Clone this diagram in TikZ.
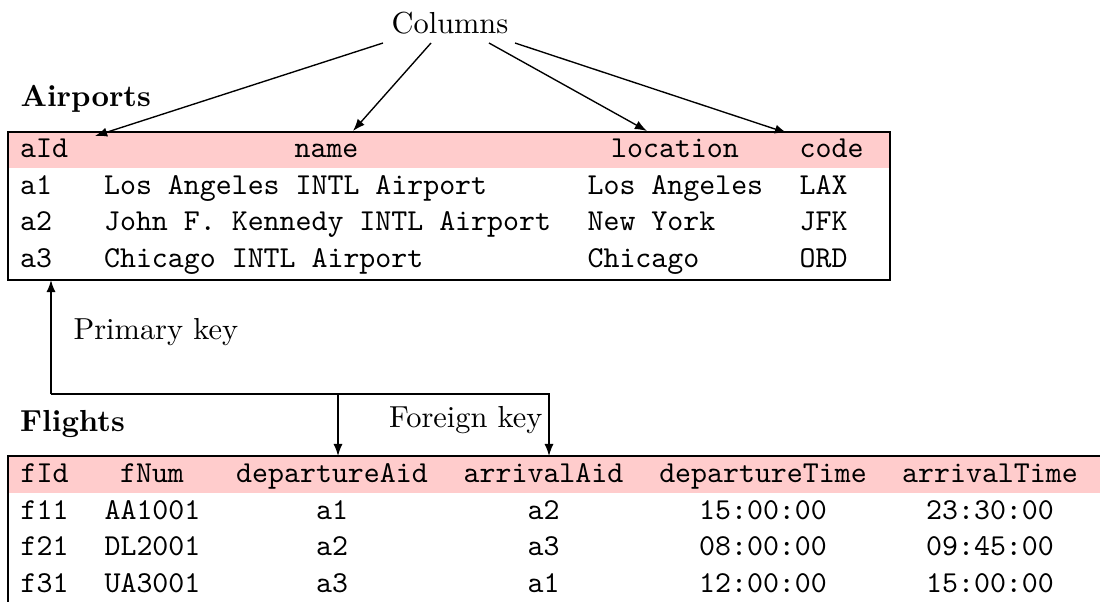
\documentclass[tikz,border=0pt]{standalone}
\usetikzlibrary{arrows.meta}
\definecolor{hdr}{RGB}{255,204,204}
\begin{document}
\begin{tikzpicture}[x=0.32895pt,y=-0.32895pt,
  cell/.style={font=\ttfamily,inner sep=0pt},
  lcell/.style={cell,anchor=base west},
  ccell/.style={cell,anchor=base},
  lbl/.style={inner sep=0pt,anchor=base},
  ttl/.style={inner sep=0pt,anchor=base west,font=\bfseries},
  tbl/.style={draw=black,line width=0.4pt},
  conn/.style={-{Latex[length=4pt,width=3pt]},line width=0.45pt}]
\useasboundingbox (0,0) rectangle (1100,601);
\begin{scope}
\clip (0,0) rectangle (1100,601);

% ---------- Airports table ----------
\fill[hdr] (8,132) rectangle (890,168);
\draw[tbl] (8,132) rectangle (890,280);
\node[ttl] (airports) at (20,106) {Airports};

\node[lcell] (aId)  at (19.5,157.5) {aId};
\node[ccell] (name) at (326.5,157.5) {name};
\node[ccell] (loc)  at (675,157.5) {location};
\node[lcell] (code) at (799,157.5) {code};

\node[lcell] (a1) at (19.5,194) {a1};
\node[lcell] (a1n) at (103.5,194) {Los Angeles INTL Airport};
\node[lcell] (a1l) at (587,194) {Los Angeles};
\node[lcell] (a1c) at (799,194) {LAX};

\node[lcell] (a2) at (19.5,230.5) {a2};
\node[lcell] (a2n) at (103.5,230.5) {John F. Kennedy INTL Airport};
\node[lcell] (a2l) at (587,230.5) {New York};
\node[lcell] (a2c) at (799,230.5) {JFK};

\node[lcell] (a3) at (19.5,267) {a3};
\node[lcell] (a3n) at (103.5,267) {Chicago INTL Airport};
\node[lcell] (a3l) at (587,267) {Chicago};
\node[lcell] (a3c) at (799,267) {ORD};

% ---------- Columns ----------
\node[lbl] (columns) at (450,33) {Columns};
\coordinate (cs1) at (383,43);
\coordinate (cs2) at (431,43);
\coordinate (cs3) at (489,43);
\coordinate (cs4) at (515,43);
\coordinate (ct1) at (95,136);
\coordinate (ct2) at (353,131);
\coordinate (ct3) at (647,131);
\coordinate (ct4) at (787,133);
\draw[conn] (cs1) -- (ct1);
\draw[conn] (cs2) -- (ct2);
\draw[conn] (cs3) -- (ct3);
\draw[conn] (cs4) -- (ct4);

% ---------- Keys ----------
\node[lbl,anchor=base west] (pk) at (73,339) {Primary key};
\node[lbl,anchor=base east] (fk) at (543,427) {Foreign key};
\coordinate (pkTop) at (51,280);
\coordinate (pkCorner) at (51,394);
\coordinate (depJ) at (338,394);
\coordinate (arrJ) at (549,394);
\coordinate (depTop) at (338,456);
\coordinate (arrTop) at (549,456);
\draw[conn] (pkCorner) -- (pkTop);
\draw[conn] (pkCorner) -- (arrJ) -- (arrTop);
\draw[conn] (depJ) -- (depTop);

% ---------- Flights table ----------
\node[ttl] (flights) at (19.5,431) {Flights};
\fill[hdr] (8,456) rectangle (1110,492.5);
\draw[tbl] (1110,456) -- (8,456) -- (8,610);

\node[lcell] (fId)  at (20,482.5) {fId};
\node[ccell] (fNum) at (152,482.5) {fNum};
\node[ccell] (dep)  at (332,482.5) {departureAid};
\node[ccell] (arr)  at (543.5,482.5) {arrivalAid};
\node[ccell] (dt)   at (763,482.5) {departureTime};
\node[ccell] (at)   at (990,482.5) {arrivalTime};

\node[lcell] (f1) at (20,519) {f11};
\node[lcell] (f1n) at (104,519) {AA1001};
\node[ccell] (f1d) at (332,519) {a1};
\node[ccell] (f1a) at (543.5,519) {a2};
\node[ccell] (f1t) at (763,519) {15:00:00};
\node[ccell] (f1u) at (990,519) {23:30:00};

\node[lcell] (f2) at (20,555.5) {f21};
\node[lcell] (f2n) at (104,555.5) {DL2001};
\node[ccell] (f2d) at (332,555.5) {a2};
\node[ccell] (f2a) at (543.5,555.5) {a3};
\node[ccell] (f2t) at (763,555.5) {08:00:00};
\node[ccell] (f2u) at (990,555.5) {09:45:00};

\node[lcell] (f3) at (20,592) {f31};
\node[lcell] (f3n) at (104,592) {UA3001};
\node[ccell] (f3d) at (332,592) {a3};
\node[ccell] (f3a) at (543.5,592) {a1};
\node[ccell] (f3t) at (763,592) {12:00:00};
\node[ccell] (f3u) at (990,592) {15:00:00};
\end{scope}
\end{tikzpicture}
\end{document}
